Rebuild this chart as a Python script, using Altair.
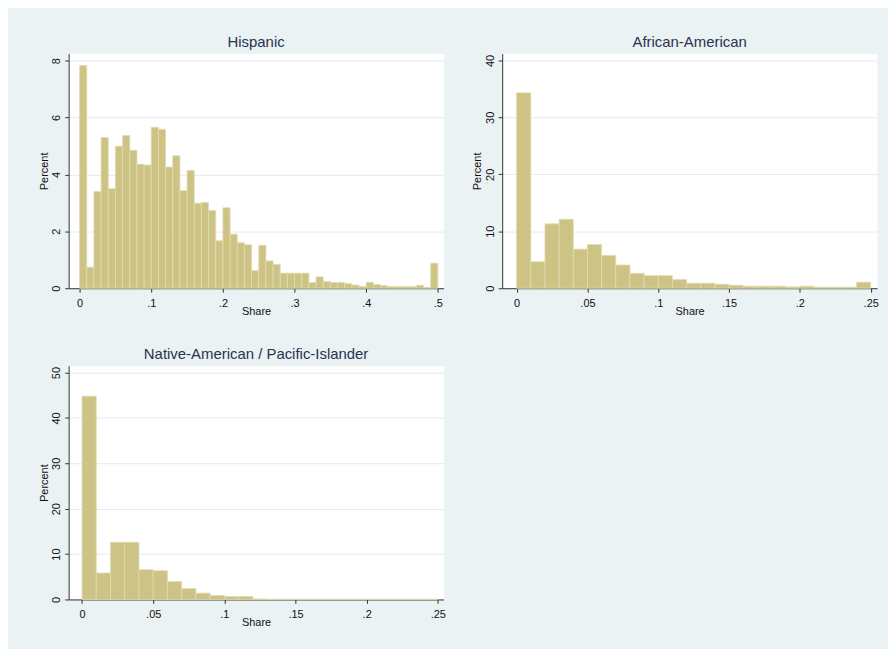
import altair as alt
import pandas as pd

BIN_WIDTH = 0.01

# Percent of observations per bin (bins of width 0.01 starting at 0)
hispanic_pct = [7.83, 0.74, 3.40, 5.30, 3.50, 4.99, 5.37, 4.85, 4.36, 4.33,
                5.66, 5.59, 4.26, 4.66, 3.43, 4.14, 2.99, 3.02, 2.73, 1.67,
                2.83, 1.90, 1.60, 1.53, 0.62, 1.51, 0.96, 0.84, 0.53, 0.53,
                0.53, 0.53, 0.20, 0.40, 0.24, 0.20, 0.20, 0.16, 0.11, 0.06,
                0.21, 0.13, 0.09, 0.06, 0.06, 0.06, 0.06, 0.10, 0.03, 0.88]
african_pct = [34.3, 4.65, 11.3, 12.1, 6.86, 7.67, 5.76, 4.07, 2.62, 2.21,
               2.21, 1.51, 0.87, 0.87, 0.70, 0.52, 0.35, 0.35, 0.35, 0.23,
               0.35, 0.17, 0.17, 0.17, 1.05]
native_pct = [44.8, 5.83, 12.6, 12.6, 6.56, 6.34, 3.94, 2.41, 1.38, 0.87,
              0.66, 0.66, 0.12, 0.06, 0.06, 0.06, 0.06, 0.06, 0.06, 0.06,
              0.06, 0.06, 0.06, 0.06, 0.06]

hispanic_xticks = [0, 0.1, 0.2, 0.3, 0.4, 0.5]
small_xticks = [0, 0.05, 0.1, 0.15, 0.2, 0.25]
hispanic_yticks = [0, 2, 4, 6, 8]
african_yticks = [0, 10, 20, 30, 40]
native_yticks = [0, 10, 20, 30, 40, 50]

FONT = "Liberation Sans"
BAR_FILL = "#CCC384"
BAR_STROKE = "#E2DCB0"
TITLE_COLOR = "#283252"
BG = "#EAF2F3"


def frame(pct):
    return pd.DataFrame({
        "start": [i * BIN_WIDTH for i in range(len(pct))],
        "end": [(i + 1) * BIN_WIDTH for i in range(len(pct))],
        "pct": pct,
        "base": [0] * len(pct),
    })


def panel(title, pct, xdom, ydom, xticks, yticks, w, h):
    xaxis = alt.Axis(
        values=xticks, title="Share", grid=False, tickSize=4, labelPadding=5,
        labelFontSize=11, labelColor="#111", labelFlush=False,
        labelExpr="datum.value == 0 ? '0' : replace(toString(datum.value), '0.', '.')",
        domainColor="#333", tickColor="#333",
        titleFontSize=11, titleFontWeight="normal", titleColor="#111",
        titleY=26.3, titleBaseline="alphabetic",
    )
    yaxis = alt.Axis(
        values=yticks, title="Percent", grid=True, gridColor="#E2EBEE", gridWidth=1,
        tickSize=4, labelPadding=5, labelFontSize=11, labelColor="#111",
        labelAngle=270, labelAlign="center", labelBaseline="alphabetic",
        labelFlush=False, domainColor="#333", tickColor="#333",
        titleFontSize=11, titleFontWeight="normal", titleColor="#111",
        titleAngle=270, titleX=-21.7, titleBaseline="alphabetic",
    )
    return alt.Chart(frame(pct)).mark_bar(
        fill=BAR_FILL, stroke=BAR_STROKE, strokeWidth=0.8
    ).encode(
        x=alt.X("start:Q", scale=alt.Scale(domain=xdom, nice=False, zero=False, padding=0), axis=xaxis),
        x2="end:Q",
        y=alt.Y("pct:Q", scale=alt.Scale(domain=ydom, nice=False, padding=0), axis=yaxis),
        y2="base:Q",
    ).properties(
        width=w, height=h,
        title=alt.TitleParams(title, fontSize=15, font=FONT, color=TITLE_COLOR,
                              fontWeight="normal", anchor="middle", offset=-8,
                              baseline="alphabetic"),
    )


p1 = panel("Hispanic", hispanic_pct, [-0.0153, 0.5079], [0, 8.25],
           hispanic_xticks, hispanic_yticks, 377, 236)
p2 = panel("African-American", african_pct, [-0.0102, 0.2545], [0, 41.2],
           small_xticks, african_yticks, 377, 236)
p3 = panel("Native-American / Pacific-Islander", native_pct, [-0.0094, 0.254], [0, 51.5],
           small_xticks, native_yticks, 377, 235)

chart = alt.vconcat(
    alt.hconcat(p1, p2, spacing=26),
    p3,
    spacing=29,
).properties(
    background=BG,
    padding={"left": 29, "top": 24, "right": 9, "bottom": 19},
).configure(font=FONT).configure_view(stroke="transparent", fill="white")

chart.save("out.html", embed_options={"renderer": "svg", "actions": False})
